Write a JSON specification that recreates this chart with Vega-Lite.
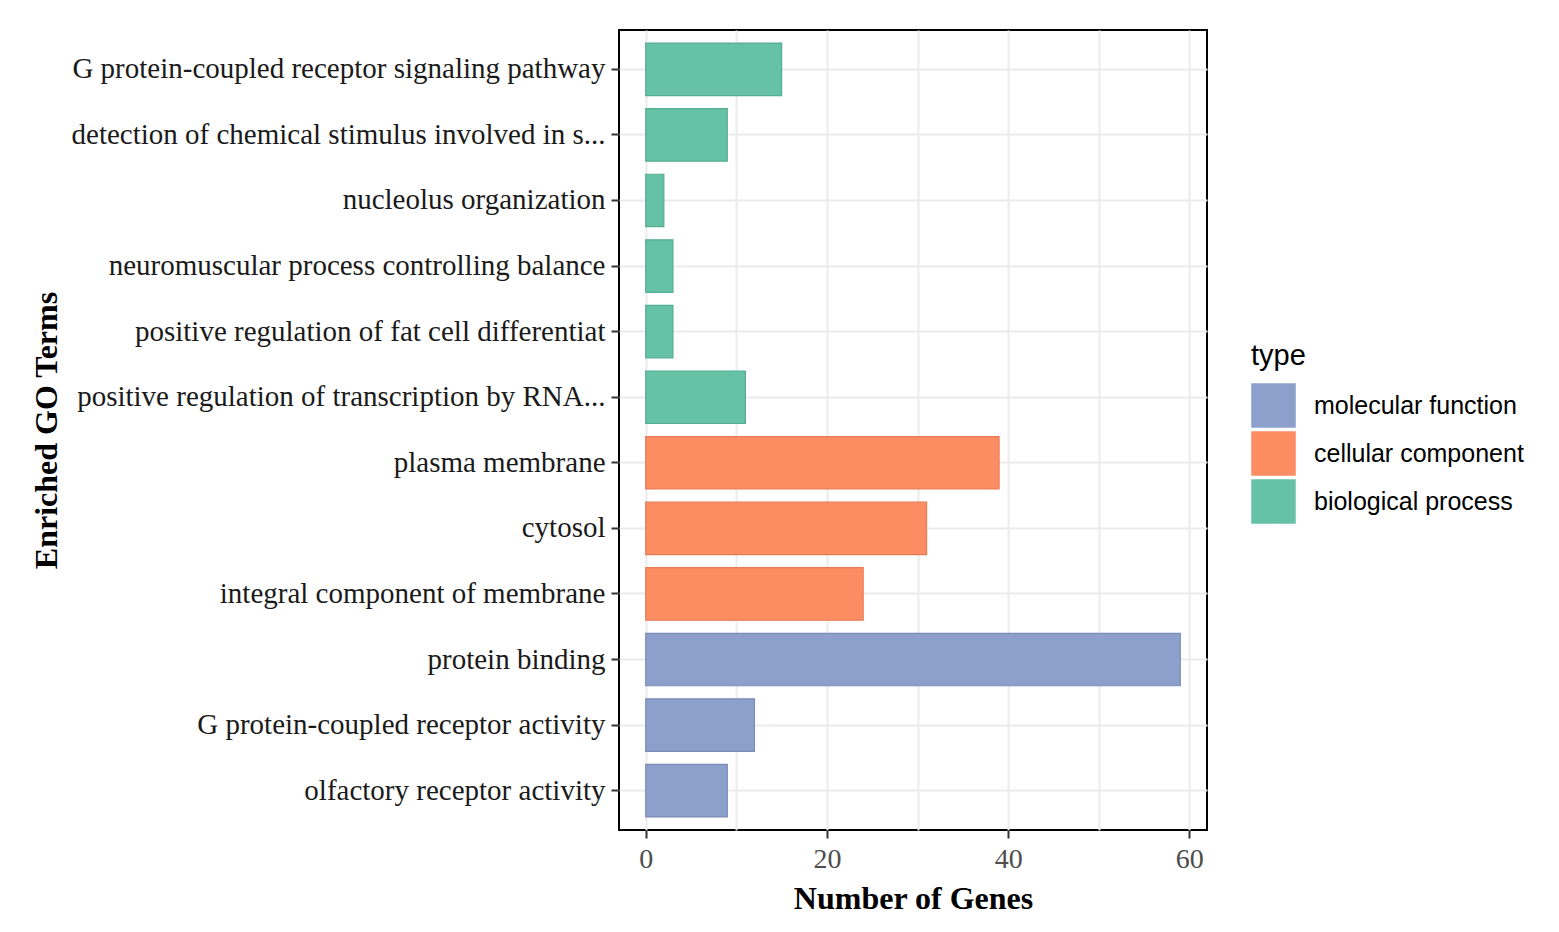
{
  "$schema": "https://vega.github.io/schema/vega-lite/v6.json",
  "description": "GO enrichment bar chart, number of genes per term",
  "background": "white",
  "padding": {"top": 30, "left": 30, "right": 5, "bottom": 5},
  "width": 588,
  "height": 800,
  "data": {
    "values": [
      {"term": "G protein-coupled receptor signaling pathway", "type": "biological process", "genes": 15},
      {"term": "detection of chemical stimulus involved in s...", "type": "biological process", "genes": 9},
      {"term": "nucleolus organization", "type": "biological process", "genes": 2},
      {"term": "neuromuscular process controlling balance", "type": "biological process", "genes": 3},
      {"term": "positive regulation of fat cell differentiat", "type": "biological process", "genes": 3},
      {"term": "positive regulation of transcription by RNA...\u2009", "type": "biological process", "genes": 11},
      {"term": "plasma membrane", "type": "cellular component", "genes": 39},
      {"term": "cytosol", "type": "cellular component", "genes": 31},
      {"term": "integral component of membrane", "type": "cellular component", "genes": 24},
      {"term": "protein binding", "type": "molecular function", "genes": 59},
      {"term": "G protein-coupled receptor activity", "type": "molecular function", "genes": 12},
      {"term": "olfactory receptor activity", "type": "molecular function", "genes": 9}
    ]
  },
  "mark": {"type": "bar", "strokeWidth": 1.2},
  "encoding": {
    "y": {
      "field": "term",
      "type": "nominal",
      "sort": null,
      "scale": {"paddingInner": 0.2, "paddingOuter": 0.2},
      "axis": {
        "title": "Enriched GO Terms",
        "titleFont": "Liberation Serif",
        "titleFontSize": 32,
        "titleFontWeight": "bold",
        "titleColor": "black",
        "titleX": -573,
        "titleY": 400,
        "titleAngle": -90,
        "titleAlign": "center",
        "titleBaseline": "middle",
        "labelFont": "Liberation Serif",
        "labelFontSize": 29,
        "labelColor": "#1a1a1a",
        "labelPadding": 6,
        "labelLimit": 700,
        "tickColor": "#333333",
        "tickSize": 8,
        "tickWidth": 2,
        "domain": false,
        "grid": true,
        "gridColor": "#ebebeb",
        "gridWidth": 2,
        "bandPosition": 0.5
      }
    },
    "x": {
      "field": "genes",
      "type": "quantitative",
      "scale": {"domain": [-2.95, 61.95], "nice": false, "zero": false},
      "axis": {
        "title": "Number of Genes",
        "titleFont": "Liberation Serif",
        "titleFontSize": 32,
        "titleFontWeight": "bold",
        "titleColor": "black",
        "titlePadding": 10,
        "values": [0, 10, 20, 30, 40, 50, 60],
        "labelExpr": "datum.value % 20 == 0 ? datum.label : ''",
        "labelFont": "Liberation Serif",
        "labelFontSize": 28,
        "labelColor": "#4d4d4d",
        "labelPadding": 7,
        "tickColor": "#333333",
        "tickSize": 8,
        "tickWidth": 2,
        "tickOpacity": {"condition": {"test": "datum.value % 20 != 0", "value": 0}, "value": 1},
        "domain": false,
        "grid": true,
        "gridColor": "#ebebeb",
        "gridWidth": 2
      }
    },
    "color": {
      "field": "type",
      "type": "nominal",
      "scale": {
        "domain": ["molecular function", "cellular component", "biological process"],
        "range": ["#8da0cb", "#fc8d62", "#66c2a5"]
      },
      "legend": {
        "title": "type",
        "orient": "none",
        "legendX": 632,
        "legendY": 312,
        "titleFont": "Liberation Sans",
        "titleFontSize": 29,
        "titleFontWeight": "normal",
        "titleColor": "black",
        "titlePadding": 12,
        "labelFont": "Liberation Sans",
        "labelFontSize": 25,
        "labelColor": "black",
        "labelLimit": 400,
        "labelOffset": 18,
        "symbolType": "square",
        "symbolSize": 1980,
        "symbolStrokeWidth": 0,
        "symbolOpacity": 1,
        "rowPadding": 3
      }
    },
    "stroke": {
      "field": "type",
      "type": "nominal",
      "scale": {
        "domain": ["molecular function", "cellular component", "biological process"],
        "range": ["#7a8cb8", "#e67c55", "#55ad92"]
      },
      "legend": null
    }
  },
  "config": {
    "view": {"stroke": "black", "strokeWidth": 2},
    "bar": {"opacity": 1}
  }
}
